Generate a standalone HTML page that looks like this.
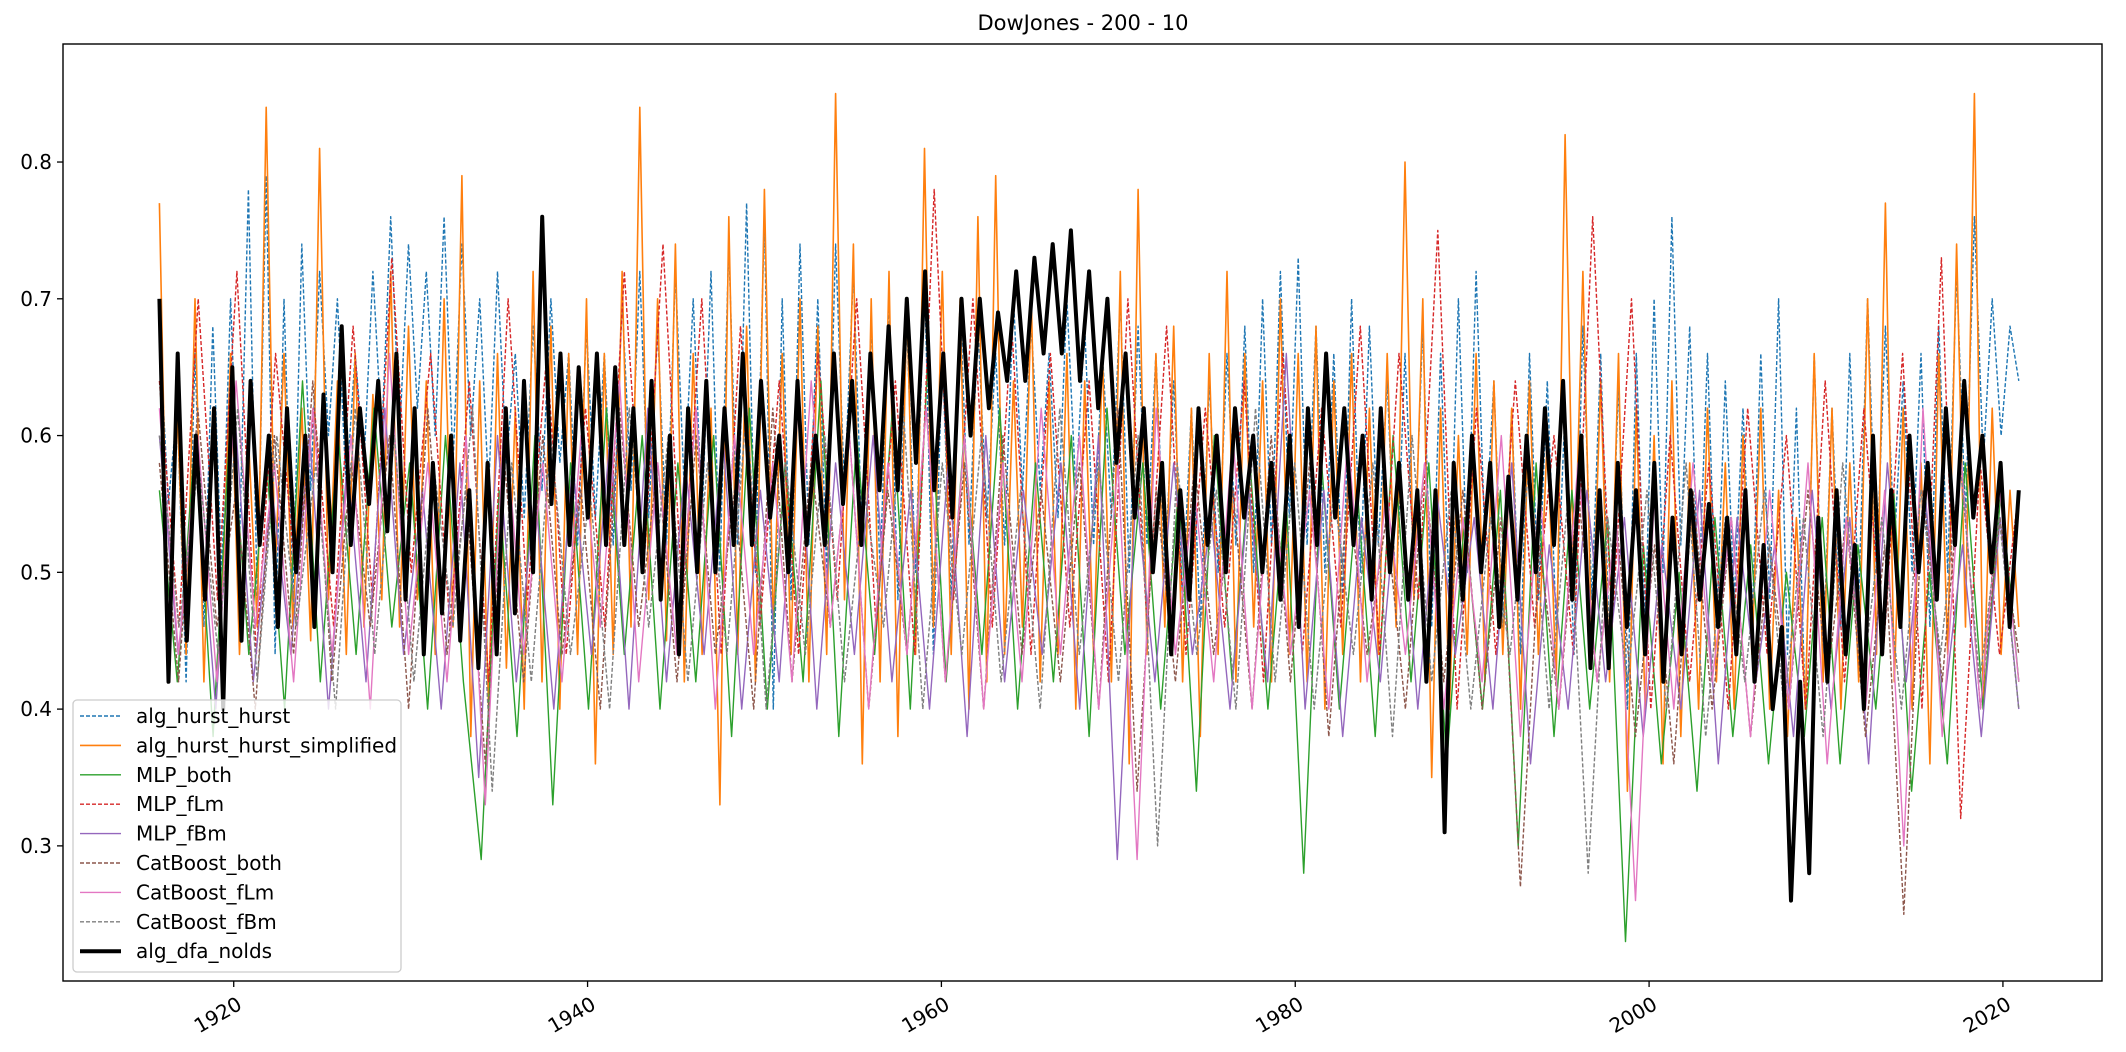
<!DOCTYPE html>
<html><head><meta charset="utf-8"><style>
html,body{margin:0;padding:0;background:#fff;}
svg{display:block;font-family:"DejaVu Sans","Liberation Sans",sans-serif;}
</style></head><body>
<svg id="chart" width="2126" height="1052" viewBox="0 0 2126 1052" xmlns="http://www.w3.org/2000/svg">
<rect width="2126" height="1052" fill="#fff"/>
<text x="1083" y="30" font-size="21" text-anchor="middle">DowJones - 200 - 10</text>
<g id="series"></g>
<g id="axes"></g>
<g id="legend"></g>
</svg>
<script>
const xStart = 1915.8, xEnd = 2020.9;
const yTicks = [0.3, 0.4, 0.5, 0.6, 0.7, 0.8];
const xTicks = [1920, 1940, 1960, 1980, 2000, 2020];
const seriesNames = ["alg_hurst_hurst","alg_hurst_hurst_simplified","MLP_both","MLP_fLm","MLP_fBm","CatBoost_both","CatBoost_fLm","CatBoost_fBm","alg_dfa_nolds"];
const hurstValues = [.68,.55,.62,.42,.66,.46,.68,.50,.70,.52,.78,.48,.79,.44,.70,.48,.74,.56,.72,.60,.70,.56,.66,.58,.72,.60,.76,.60,.74,.62,.72,.60,.76,.58,.74,.60,.70,.56,.72,.58,.66,.54,.68,.56,.70,.58,.66,.52,.68,.54,.66,.52,.70,.56,.72,.54,.68,.52,.72,.56,.70,.54,.72,.50,.74,.52,.77,.50,.76,.40,.70,.48,.74,.52,.70,.50,.74,.56,.72,.52,.68,.50,.70,.48,.68,.50,.72,.44,.66,.48,.70,.52,.68,.54,.66,.52,.70,.56,.68,.56,.66,.54,.70,.56,.68,.52,.66,.54,.70,.50,.68,.52,.66,.50,.64,.48,.62,.46,.64,.50,.66,.52,.68,.50,.70,.52,.72,.54,.73,.52,.68,.50,.66,.48,.70,.50,.68,.52,.64,.48,.66,.50,.68,.46,.66,.48,.70,.50,.72,.52,.64,.46,.62,.44,.66,.48,.64,.46,.62,.44,.68,.48,.66,.44,.64,.40,.66,.46,.70,.50,.76,.52,.68,.48,.66,.46,.64,.48,.62,.46,.66,.48,.70,.44,.62,.40,.66,.44,.62,.46,.66,.48,.70,.50,.68,.52,.64,.50,.66,.46,.68,.50,.72,.54,.76,.58,.70,.60,.68,.64];
const simplifiedValues = [.77,.45,.62,.44,.70,.42,.62,.47,.66,.44,.60,.46,.84,.50,.66,.46,.62,.45,.81,.48,.64,.44,.66,.46,.63,.48,.72,.46,.68,.48,.64,.44,.70,.46,.79,.38,.64,.40,.66,.43,.62,.40,.72,.42,.68,.40,.66,.44,.70,.36,.66,.44,.72,.46,.84,.48,.70,.45,.74,.42,.66,.44,.62,.33,.76,.44,.68,.42,.78,.46,.66,.44,.70,.42,.68,.44,.85,.48,.74,.36,.70,.42,.72,.38,.70,.44,.81,.46,.72,.44,.70,.40,.76,.42,.79,.44,.64,.46,.70,.42,.64,.44,.66,.40,.64,.44,.66,.42,.72,.36,.78,.44,.66,.46,.68,.42,.62,.38,.66,.44,.72,.42,.66,.46,.64,.42,.70,.44,.66,.42,.68,.40,.64,.44,.66,.42,.62,.44,.66,.46,.80,.48,.70,.35,.62,.40,.60,.44,.66,.42,.64,.44,.62,.40,.64,.44,.60,.42,.82,.48,.72,.44,.64,.42,.66,.34,.62,.40,.60,.36,.64,.38,.58,.40,.62,.42,.58,.40,.60,.44,.62,.40,.56,.38,.54,.40,.66,.42,.62,.40,.58,.42,.70,.44,.77,.42,.62,.40,.58,.36,.66,.44,.74,.46,.85,.40,.62,.44,.56,.46];
const mlpBothValues = [.56,.42,.60,.38,.62,.44,.58,.40,.64,.42,.60,.44,.62,.46,.58,.40,.60,.42,.29,.56,.38,.60,.33,.58,.40,.62,.44,.60,.40,.58,.42,.60,.38,.62,.40,.58,.42,.64,.38,.60,.44,.62,.40,.66,.42,.60,.44,.62,.40,.58,.42,.60,.38,.62,.44,.58,.40,.56,.34,.60,.42,.58,.40,.56,.28,.58,.40,.56,.38,.60,.42,.58,.36,.54,.40,.56,.30,.58,.38,.56,.40,.54,.23,.52,.36,.50,.34,.54,.38,.52,.36,.50,.38,.54,.36,.52,.40,.56,.34,.50,.36,.58,.40,.56,.42];
const mlpFlmValues = [.64,.46,.70,.48,.72,.44,.66,.50,.62,.46,.68,.48,.73,.50,.66,.46,.64,.42,.70,.48,.66,.44,.62,.46,.72,.50,.74,.48,.70,.44,.68,.46,.64,.44,.66,.48,.70,.46,.64,.44,.78,.48,.70,.46,.68,.44,.66,.46,.64,.42,.70,.46,.68,.44,.62,.46,.64,.42,.66,.44,.62,.46,.68,.44,.66,.48,.75,.40,.62,.44,.64,.46,.60,.44,.76,.46,.70,.40,.60,.42,.58,.40,.62,.44,.60,.40,.64,.42,.62,.44,.66,.40,.73,.32,.58,.44,.56];
const mlpFbmValues = [.60,.44,.58,.40,.62,.42,.56,.44,.60,.40,.58,.42,.62,.44,.56,.40,.58,.35,.60,.42,.56,.40,.58,.44,.60,.40,.62,.42,.58,.44,.60,.40,.56,.42,.62,.40,.58,.44,.60,.42,.56,.40,.58,.38,.60,.42,.56,.44,.58,.40,.60,.29,.56,.42,.58,.44,.54,.40,.56,.42,.66,.40,.56,.38,.54,.42,.58,.40,.56,.44,.54,.40,.58,.36,.52,.40,.56,.42,.54,.38,.52,.40,.56,.36,.54,.42,.52,.38,.56,.40,.54,.36,.58,.42,.56,.40,.52,.38,.54,.40];
const catBothValues = [.58,.42,.62,.46,.56,.40,.60,.44,.64,.42,.58,.46,.60,.40,.62,.44,.56,.36,.58,.42,.60,.44,.56,.40,.62,.46,.58,.42,.60,.44,.56,.40,.62,.42,.58,.46,.60,.40,.56,.44,.62,.42,.58,.40,.60,.44,.56,.42,.58,.40,.62,.34,.56,.42,.58,.44,.56,.40,.60,.42,.58,.38,.56,.44,.54,.40,.58,.42,.56,.40,.54,.27,.52,.40,.56,.42,.54,.38,.52,.36,.56,.40,.54,.38,.52,.40,.56,.42,.54,.38,.52,.25,.56,.42,.58,.40,.54,.44];
const catFlmValues = [.62,.44,.60,.42,.64,.46,.58,.42,.62,.44,.60,.40,.66,.44,.58,.42,.60,.33,.62,.44,.58,.42,.60,.46,.64,.42,.58,.44,.62,.40,.60,.44,.58,.42,.64,.46,.60,.40,.58,.44,.62,.42,.60,.40,.58,.42,.62,.44,.60,.40,.58,.29,.62,.44,.56,.42,.60,.40,.58,.44,.56,.40,.60,.42,.56,.44,.58,.40,.54,.42,.60,.38,.56,.40,.58,.42,.54,.26,.56,.40,.58,.42,.54,.38,.56,.40,.58,.36,.54,.40,.56,.30,.62,.38,.58,.40,.56,.42];
const catFbmValues = [.60,.46,.58,.44,.62,.42,.60,.46,.58,.40,.62,.44,.60,.42,.58,.46,.62,.34,.58,.42,.60,.44,.56,.40,.62,.46,.60,.42,.58,.44,.62,.40,.58,.44,.60,.42,.56,.46,.62,.40,.58,.44,.60,.42,.56,.40,.62,.44,.58,.42,.60,.30,.58,.44,.56,.40,.62,.42,.58,.40,.56,.44,.58,.38,.60,.42,.56,.40,.54,.44,.58,.40,.56,.28,.54,.42,.56,.40,.58,.38,.54,.42,.56,.40,.54,.38,.58,.42,.54,.40,.56,.44,.58,.42,.54,.40];
const dfaValues = [.70,.42,.66,.45,.60,.48,.62,.40,.65,.45,.64,.52,.60,.46,.62,.50,.60,.46,.63,.50,.68,.52,.62,.55,.64,.53,.66,.48,.62,.44,.58,.47,.60,.45,.56,.43,.58,.44,.62,.47,.64,.50,.76,.55,.66,.52,.65,.54,.66,.52,.65,.52,.62,.50,.64,.48,.60,.44,.62,.50,.64,.50,.62,.52,.66,.52,.64,.54,.60,.50,.64,.52,.60,.52,.66,.55,.64,.52,.66,.56,.68,.56,.70,.58,.72,.56,.66,.54,.70,.60,.70,.62,.69,.64,.72,.64,.73,.66,.74,.66,.75,.64,.72,.62,.70,.58,.66,.54,.62,.50,.58,.44,.56,.48,.62,.52,.60,.50,.62,.54,.60,.50,.58,.48,.60,.46,.62,.52,.66,.54,.62,.52,.60,.48,.62,.50,.58,.48,.56,.42,.56,.31,.58,.48,.60,.50,.58,.46,.57,.48,.60,.50,.62,.52,.64,.48,.60,.43,.56,.43,.58,.46,.56,.44,.58,.42,.54,.44,.56,.48,.55,.46,.54,.44,.56,.42,.52,.40,.46,.26,.42,.28,.54,.42,.56,.44,.52,.40,.60,.44,.56,.46,.60,.50,.58,.48,.62,.52,.64,.54,.60,.50,.58,.46,.56];

const L = 63, R = 2102, T = 44, B = 981;
const yMin = 0.2012, yMax = 0.8863;
const xMin = 1910.35, xMax = 2025.6;
function xScale(v){ return L + (v - xMin) / (xMax - xMin) * (R - L); }
function yScale(v){ return B - (v - yMin) / (yMax - yMin) * (B - T); }
const NS = "http://www.w3.org/2000/svg";

const styles = [
  {c:"#1f77b4", w:1.4, d:"4,2"},
  {c:"#ff7f0e", w:1.6, d:""},
  {c:"#2ca02c", w:1.4, d:""},
  {c:"#d62728", w:1.4, d:"4,2"},
  {c:"#9467bd", w:1.4, d:""},
  {c:"#8c564b", w:1.4, d:"4,2"},
  {c:"#e377c2", w:1.4, d:""},
  {c:"#7f7f7f", w:1.4, d:"4,2"},
  {c:"#000000", w:4, d:""}
];
const allValues = [hurstValues, simplifiedValues, mlpBothValues, mlpFlmValues, mlpFbmValues, catBothValues, catFlmValues, catFbmValues, dfaValues];
const seriesSlugs = ["series-alg-hurst-hurst","series-alg-hurst-hurst-simplified","series-mlp-both","series-mlp-flm","series-mlp-fbm","series-catboost-both","series-catboost-flm","series-catboost-fbm","series-alg-dfa-nolds"];

const gS = document.getElementById("series");
allValues.forEach((vals, si) => {
  const n = vals.length;
  const pts = vals.map((v, i) => {
    const yr = xStart + (xEnd - xStart) * i / (n - 1);
    return xScale(yr).toFixed(1) + "," + yScale(v).toFixed(1);
  }).join(" ");
  const pl = document.createElementNS(NS, "polyline");
  pl.setAttribute("points", pts);
  pl.setAttribute("fill", "none");
  pl.setAttribute("stroke", styles[si].c);
  pl.setAttribute("stroke-width", styles[si].w);
  pl.setAttribute("stroke-linejoin", "round");
  if (styles[si].d) pl.setAttribute("stroke-dasharray", styles[si].d);
  
  
  gS.appendChild(pl);
});

const gA = document.getElementById("axes");
const frame = document.createElementNS(NS, "rect");
frame.setAttribute("x", L); frame.setAttribute("y", T);
frame.setAttribute("width", R - L); frame.setAttribute("height", B - T);
frame.setAttribute("fill", "none"); frame.setAttribute("stroke", "#000"); frame.setAttribute("stroke-width", "1.4");


gA.appendChild(frame);

yTicks.forEach(v => {
  const y = yScale(v);
  const tk = document.createElementNS(NS, "line");
  tk.setAttribute("x1", L - 6); tk.setAttribute("x2", L); tk.setAttribute("y1", y); tk.setAttribute("y2", y);
  tk.setAttribute("stroke", "#000"); tk.setAttribute("stroke-width", "1.3");
  
  
  gA.appendChild(tk);
  const tx = document.createElementNS(NS, "text");
  tx.setAttribute("x", L - 11); tx.setAttribute("y", y + 7);
  tx.setAttribute("text-anchor", "end"); tx.setAttribute("font-size", "20");
  tx.textContent = v.toFixed(1);
  
  
  gA.appendChild(tx);
});
xTicks.forEach(v => {
  const x = xScale(v);
  const tk = document.createElementNS(NS, "line");
  tk.setAttribute("x1", x); tk.setAttribute("x2", x); tk.setAttribute("y1", B); tk.setAttribute("y2", B + 6);
  tk.setAttribute("stroke", "#000"); tk.setAttribute("stroke-width", "1.3");
  
  
  gA.appendChild(tk);
  const tx = document.createElementNS(NS, "text");
  tx.setAttribute("transform", "translate(" + (x + 2) + "," + (B + 14) + ") rotate(-30)");
  tx.setAttribute("text-anchor", "end"); tx.setAttribute("font-size", "20");
  tx.setAttribute("dominant-baseline", "hanging");
  tx.textContent = String(v);
  
  
  gA.appendChild(tx);
});

const gL = document.getElementById("legend");
const box = document.createElementNS(NS, "rect");
box.setAttribute("x", 73); box.setAttribute("y", 700); box.setAttribute("width", 328); box.setAttribute("height", 272);
box.setAttribute("rx", 4); box.setAttribute("fill", "#fff"); box.setAttribute("fill-opacity", "0.8");
box.setAttribute("stroke", "#ccc"); box.setAttribute("stroke-width", "1.3");


gL.appendChild(box);
seriesNames.forEach((nm, i) => {
  const y = 716 + i * 29.4;
  const ln = document.createElementNS(NS, "line");
  ln.setAttribute("x1", 80); ln.setAttribute("x2", 121); ln.setAttribute("y1", y); ln.setAttribute("y2", y);
  ln.setAttribute("stroke", styles[i].c); ln.setAttribute("stroke-width", styles[i].w);
  if (styles[i].d) ln.setAttribute("stroke-dasharray", styles[i].d);
  
  
  gL.appendChild(ln);
  const tx = document.createElementNS(NS, "text");
  tx.setAttribute("x", 136); tx.setAttribute("y", y + 7); tx.setAttribute("font-size", "20");
  tx.textContent = nm;
  
  
  gL.appendChild(tx);
});
</script>
</body></html>
